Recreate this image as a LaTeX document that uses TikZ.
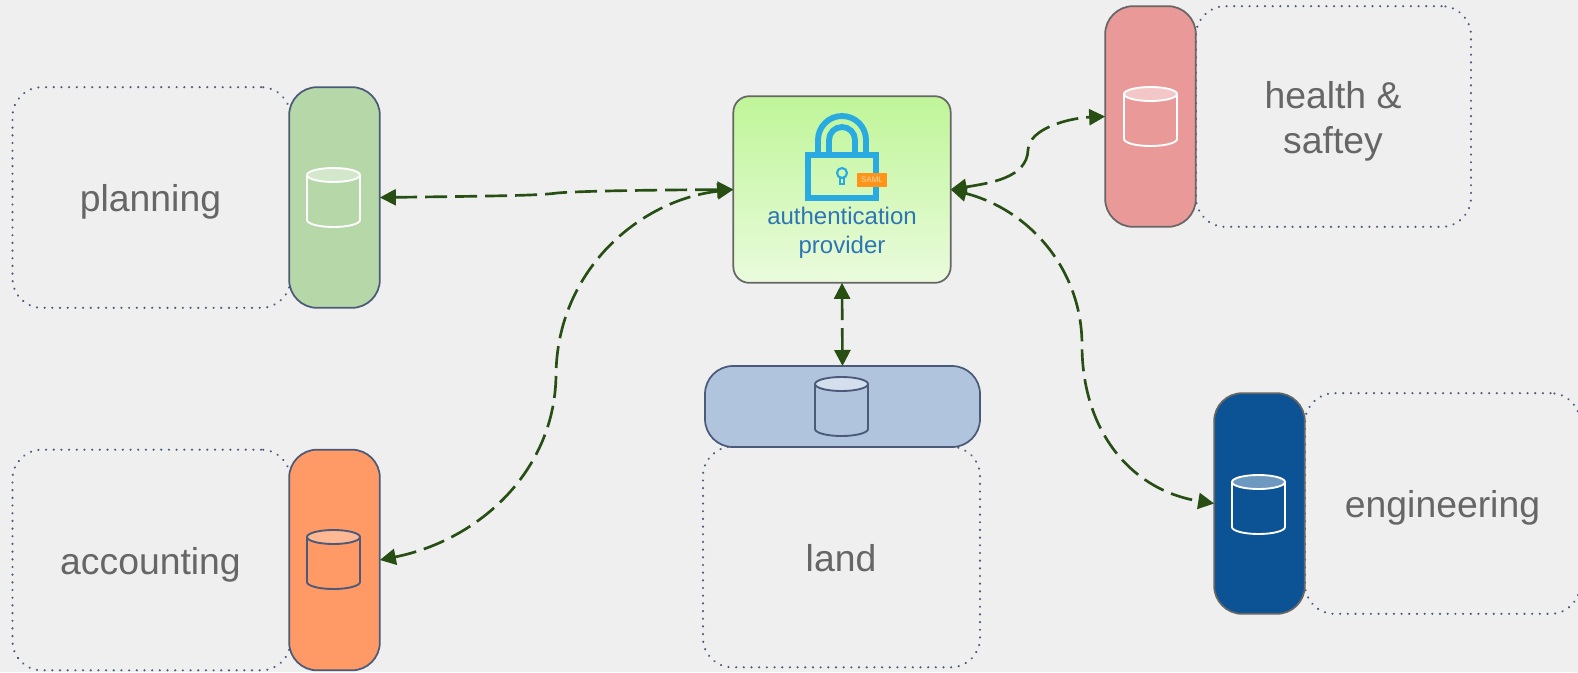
\documentclass[tikz,border=0pt]{standalone}
\usepackage{fontspec}
\setmainfont{Liberation Sans}
\usetikzlibrary{arrows.meta}
\definecolor{bgc}{HTML}{EFEFEF}
\definecolor{txt}{HTML}{666666}
\definecolor{dotc}{HTML}{4A5A78}
\definecolor{slate}{HTML}{4A5A78}
\definecolor{greyline}{HTML}{666666}
\definecolor{linkc}{HTML}{274E13}
\definecolor{lockc}{HTML}{29ABE2}
\definecolor{authtxt}{HTML}{2E75B6}
\definecolor{cgreen}{HTML}{B6D7A8}
\definecolor{corange}{HTML}{FF9966}
\definecolor{cland}{HTML}{B0C4DE}
\definecolor{cred}{HTML}{EA9999}
\definecolor{cblue}{HTML}{0B5394}
\definecolor{authtop}{HTML}{BFF598}
\definecolor{authbot}{HTML}{EAFBDD}
\definecolor{samlbg}{HTML}{FF9418}
\definecolor{samltxt}{HTML}{FFD9A8}
\newcommand{\dbicon}[4]{% cx, top y, stroke, cap fill
  \draw[dbline,draw=#3] (#1-26.5,#2+7) -- (#1-26.5,#2+52) arc (180:0:26.5 and 7) -- (#1+26.5,#2+7);
  \draw[dbline,draw=#3,fill=#4] (#1,#2+7) ellipse (26.5 and 7);
}
\tikzset{
  x=0.75pt,y=-0.75pt,
  areabox/.style={draw=dotc,line width=1.7pt,line cap=round,dash pattern=on 0.1pt off 5.66pt,rounded corners=22pt,
    minimum height=165.5pt,minimum width=208.5pt,inner sep=0pt,outer sep=0pt},
  arealabel/.style={text=txt,align=center,inner sep=0pt,font=\fontsize{28}{33.75}\selectfont},
  pill/.style={line width=1.3pt,rounded corners=21pt,minimum width=68pt,minimum height=165.5pt,inner sep=0pt,outer sep=0pt},
  dbline/.style={line width=1.4pt},
  link/.style={draw=linkc,line width=2pt,dash pattern=on 16.5pt off 6pt,
    {Triangle[length=12pt,width=12pt]}-{Triangle[length=12pt,width=12pt]}},
  lockline/.style={draw=lockc,line width=4.4pt},
}
\begin{document}
\begin{tikzpicture}
\path[use as bounding box,fill=bgc] (0,0) rectangle (1578,672);
% dotted areas
\node[areabox] (planning) at (151.5,197.5) {};
\node[areabox] (accounting) at (151.5,560) {};
\node[areabox,minimum width=207.75pt] (land) at (841.5,557) {};
\node[areabox,minimum width=206.25pt] (health) at (1333.5,116.5) {};
\node[areabox,minimum width=206.25pt] (engineering) at (1442.5,503.5) {};
\node[arealabel,anchor=base] (planninglabel) at (150.5,211.5) {planning};
\node[arealabel,anchor=base] (accountinglabel) at (150.5,574) {accounting};
\node[arealabel,anchor=base] (landlabel) at (841,571) {land};
\node[arealabel] (healthlabel) at (1333,121) {health \&\\saftey};
\node[arealabel,anchor=base] (engineeringlabel) at (1442.5,517.5) {engineering};
% coloured pills
\node[pill,draw=slate,fill=cgreen] (dbgreen) at (334.5,197.5) {};
\node[pill,draw=slate,fill=corange] (dborange) at (334.5,560) {};
\node[pill,draw=slate,fill=cland,minimum width=206.25pt,minimum height=60.75pt] (dbland) at (842.5,406.5) {};
\node[pill,draw=greyline,fill=cred] (dbred) at (1150.5,116.5) {};
\node[pill,draw=greyline,fill=cblue] (dbblue) at (1259.5,503.5) {};
\dbicon{333.5}{168}{white}{white!40!cgreen}
\dbicon{333.5}{530}{slate}{white!30!corange}
\dbicon{841.5}{377}{slate}{white!45!cland}
\dbicon{1150.5}{87}{white}{white!45!cred}
\dbicon{1258.5}{475}{white}{white!40!cblue}
% authentication provider
\node[draw=greyline,line width=1.3pt,rounded corners=12pt,top color=authtop,bottom color=authbot,
  minimum width=163pt,minimum height=140pt,inner sep=0pt,outer sep=0pt] (auth) at (842,189.5) {};
\draw[lockline] (818,152) -- (818,140) arc (180:360:24) -- (866,152);
\draw[lockline] (829,152) -- (829,140) arc (180:360:13) -- (855,152);
\draw[lockline,line width=4.6pt] (808,155) rectangle (876,198);
\draw[draw=lockc,line width=1.6pt] (842,173) circle (5);
\draw[draw=lockc,line width=1.6pt] (840,178) -- (840,184) -- (844,184) -- (844,178);
\node[fill=samlbg,minimum width=22.5pt,minimum height=10.5pt,inner sep=0pt,text=samltxt,font=\fontsize{6}{7}\selectfont] (saml) at (872,180) {SAML};
\node[text=authtxt,align=center,font=\fontsize{18}{21.6}\selectfont,inner sep=0pt] (authlabel) at (842,233) {authentication\\provider};
% connectors
\draw[link] (dbgreen.east) .. controls (500,196) and (540,195.5) .. (557,193) .. controls (580,191) and (650,190) .. (auth.west);
\draw[link] (dborange.east) .. controls (480,540) and (555,470) .. (556,375) .. controls (557,270) and (640,200) .. (auth.west);
\draw[link] (auth.east) .. controls (990,183) and (1027,178) .. (1028,150) .. controls (1029,128) and (1070,118) .. (dbred.west);
\draw[link] (auth.east) .. controls (1030,210) and (1082,270) .. (1082,345) .. controls (1082,430) and (1130,490) .. (dbblue.west);
\draw[link] (auth.south) -- (dbland.north);
\end{tikzpicture}
\end{document}
